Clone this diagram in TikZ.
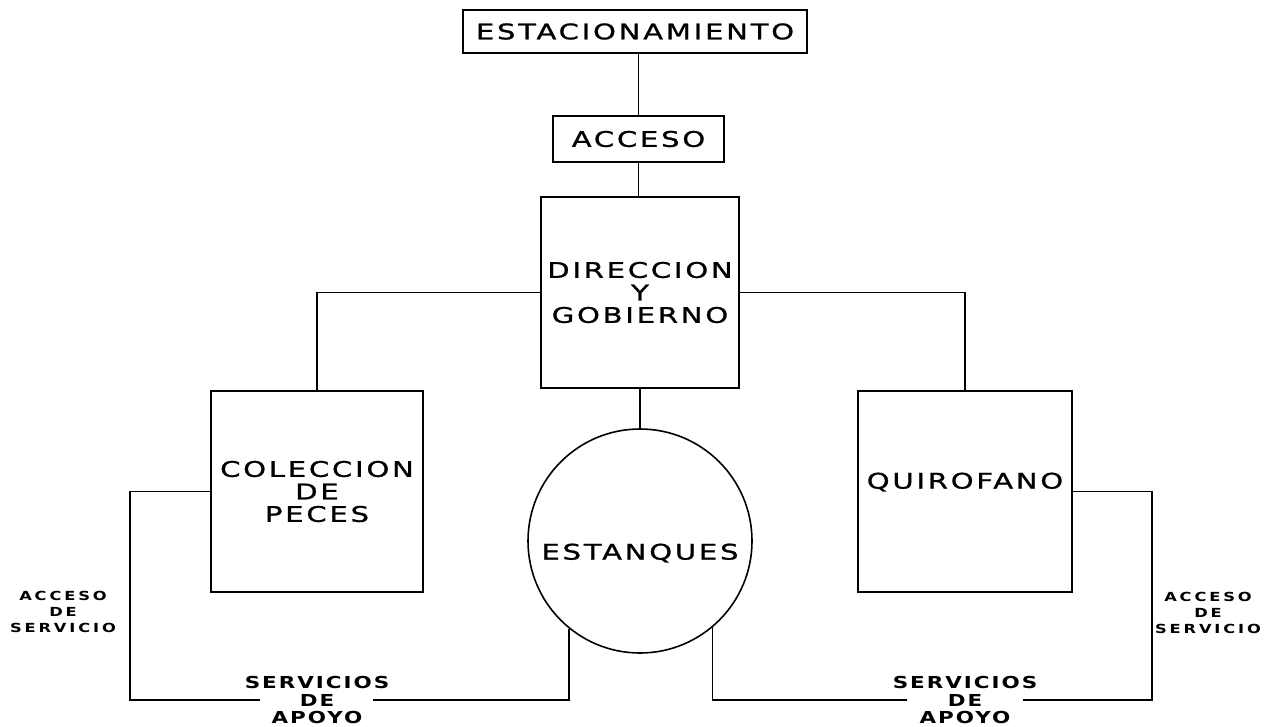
\documentclass[tikz,border=0pt]{standalone}
\usepackage{fontspec}
\newfontfamily\mainf[FakeStretch=1.35,LetterSpace=13,FakeBold=1.2]{DejaVu Sans}
\newfontfamily\servf[FakeStretch=1.3,LetterSpace=12]{DejaVu Sans Bold}
\newfontfamily\accf[FakeStretch=1.3,LetterSpace=23]{DejaVu Sans Bold}
\begin{document}
\begin{tikzpicture}[x=1pt,y=-1pt,line width=1.6pt,
  box/.style={draw,rectangle,inner sep=0pt,align=center,
    font=\mainf\fontsize{21.5}{22.5}\selectfont},
  bigtext/.style={inner sep=0pt,align=center,font=\mainf\fontsize{21.5}{22.5}\selectfont},
  servtext/.style={inner sep=0pt,align=center,font=\servf\fontsize{16.5}{17.5}\selectfont},
  acctext/.style={inner sep=0pt,align=center,font=\accf\fontsize{12.5}{16}\selectfont}]
\useasboundingbox (0,0) rectangle (1279,726);
\fill[white] (0,0) rectangle (1279,726);

\node[box,minimum width=344pt,minimum height=43pt] (est) at (635,31.5) {ESTACIONAMIENTO};
\node[box,minimum width=171pt,minimum height=46pt] (acc) at (638.5,139) {ACCESO};
\node[box,minimum width=198pt,minimum height=191pt] (dir) at (640,292.5) {DIRECCION\\Y\\GOBIERNO};
\node[box,minimum width=212pt,minimum height=201pt] (col) at (317,491.5) {COLECCION\\DE\\PECES};
\node[box,minimum width=214pt,minimum height=201pt] (qui) at (965,491.5) {};
\node[bigtext] (quitxt) at (965,482) {QUIROFANO};
\node[draw,circle,minimum size=224pt,inner sep=0pt] (tank) at (640,541) {};
\node[bigtext] (tanktxt) at (640,553) {ESTANQUES};

\node[servtext] (servL) at (317,700) {SERVICIOS\\DE\\APOYO};
\node[servtext] (servR) at (965,700) {SERVICIOS\\DE\\APOYO};
\node[acctext] (accL) at (63,612) {ACCESO\\DE\\SERVICIO};
\node[acctext] (accR) at (1208,613) {ACCESO\\DE\\SERVICIO};

\coordinate (lc) at (130,700);
\coordinate (lgapL) at (260,700);
\coordinate (lgapR) at (373,700);
\coordinate (rc) at (1152,700);
\coordinate (rgapR) at (1023,700);
\coordinate (rgapL) at (907,700);

\draw (est.south -| acc.north) -- (acc.north);
\draw (acc.south) -- (acc.south |- dir.north);
\draw (dir.west) -| (col.north);
\draw (dir.east) -| (qui.north);
\draw (dir.south) -- (tank.north);
\draw (col.west) -| (lc) -- (lgapL);
\draw (lgapR) -| (tank.231);
\draw (qui.east) -| (rc) -- (rgapR);
\draw (rgapL) -| (tank.-50);
\end{tikzpicture}
\end{document}
